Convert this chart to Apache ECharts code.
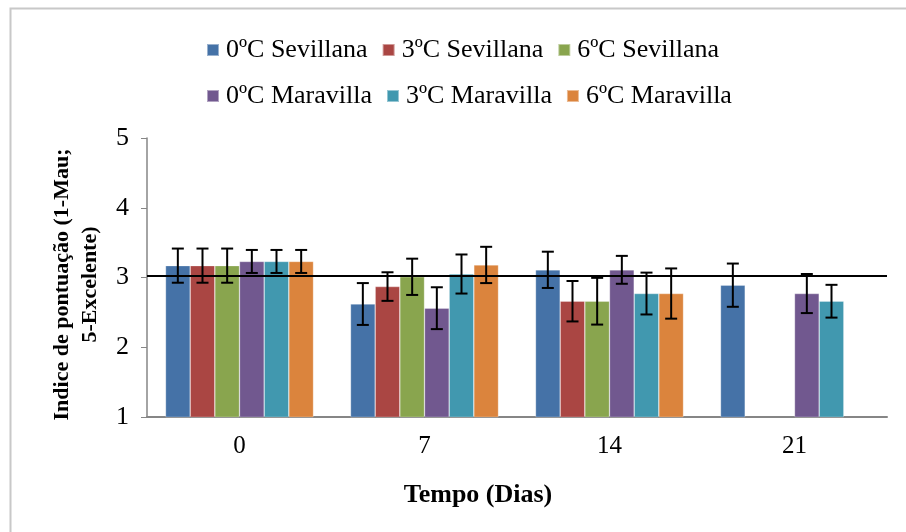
<!DOCTYPE html>
<html>
<head>
<meta charset="utf-8">
<script src="https://cdn.jsdelivr.net/npm/echarts@6/dist/echarts.min.js"></script>
<style>html,body{margin:0;padding:0;background:#fff;}#c{width:906px;height:532px;}</style>
</head>
<body>
<div id="c"></div>
<script>
const days = ['0', '7', '14', '21'];
const seriesNames = ['0ºC Sevillana', '3ºC Sevillana', '6ºC Sevillana', '0ºC Maravilla', '3ºC Maravilla', '6ºC Maravilla'];
const sev0 = [3.17, 2.62, 3.11, 2.89];
const sev3 = [3.17, 2.87, 2.66, null];
const sev6 = [3.17, 3.01, 2.66, null];
const mar0 = [3.23, 2.56, 3.11, 2.77];
const mar3 = [3.23, 3.05, 2.77, 2.66];
const mar6 = [3.23, 3.18, 2.77, null];
const sev0Err = [0.245, 0.30, 0.26, 0.31];
const sev3Err = [0.245, 0.205, 0.29, null];
const sev6Err = [0.245, 0.26, 0.335, null];
const mar0Err = [0.165, 0.30, 0.20, 0.28];
const mar3Err = [0.165, 0.28, 0.30, 0.235];
const mar6Err = [0.165, 0.26, 0.36, null];
const refLine = 3.02;
const yTicks = [1, 5, 1];

const values = [sev0, sev3, sev6, mar0, mar3, mar6];
const errs = [sev0Err, sev3Err, sev6Err, mar0Err, mar3Err, mar6Err];
const colors = ['#4572A7', '#AA4643', '#89A54E', '#71588F', '#4198AF', '#DB843D'];
const FONT = '"Liberation Serif", "Times New Roman", serif';
const CAT_GAP = 0.2;

const errData = [];
values.forEach((vals, s) => {
  vals.forEach((v, c) => {
    if (v != null && errs[s][c] != null) errData.push([c, v - errs[s][c], v + errs[s][c], s]);
  });
});

const series = values.map((vals, i) => ({
  name: seriesNames[i],
  type: 'bar',
  data: vals,
  barGap: '0%',
  barCategoryGap: '20%',
  itemStyle: { color: colors[i], borderColor: 'rgba(255,255,255,0.45)', borderWidth: 0.6 },
  emphasis: { disabled: true },
  markLine: i === 0 ? {
    silent: true, symbol: 'none', label: { show: false },
    lineStyle: { color: '#000', width: 2, type: 'solid' },
    data: [{ yAxis: refLine }]
  } : undefined
}));

series.push({
  type: 'custom',
  name: 'err',
  data: errData,
  z: 10,
  encode: { x: 0, y: [1, 2] },
  renderItem: function (params, api) {
    const c = api.value(0), lo = api.value(1), hi = api.value(2), s = api.value(3);
    const band = api.size([1, 0])[0];
    const bw = band * (1 - CAT_GAP) / 6;
    const center = api.coord([c, lo]);
    const x = center[0] + (s - 2.5) * bw;
    const yLo = api.coord([c, lo])[1];
    const yHi = api.coord([c, hi])[1];
    const cap = 6;
    const st = { stroke: '#000', lineWidth: 2 };
    return {
      type: 'group',
      children: [
        { type: 'line', shape: { x1: x, y1: yLo, x2: x, y2: yHi }, style: st },
        { type: 'line', shape: { x1: x - cap, y1: yHi, x2: x + cap, y2: yHi }, style: st },
        { type: 'line', shape: { x1: x - cap, y1: yLo, x2: x + cap, y2: yLo }, style: st }
      ]
    };
  }
});

const legendCommon = {
  icon: 'rect', itemWidth: 12, itemHeight: 12, itemGap: 14,
  textStyle: { fontFamily: FONT, fontSize: 26, color: '#000', padding: [0, 0, 0, 2] },
  selectedMode: false
};

const chart = echarts.init(document.getElementById('c'), null, { renderer: 'canvas' });
chart.setOption({
  animation: false,
  color: colors,
  graphic: [{
    type: 'rect', left: 8, top: 6, silent: true,
    shape: { width: 920, height: 560 },
    style: { fill: 'none', stroke: '#c8c8c8', lineWidth: 2 }
  }],
  title: {
    text: 'Tempo (Dias)', left: 473, top: 477, textAlign: 'center',
    textStyle: { fontFamily: FONT, fontSize: 26, fontWeight: 'bold', color: '#000' }
  },
  legend: [
    Object.assign({ left: 201, top: 32, data: seriesNames.slice(0, 3) }, legendCommon),
    Object.assign({ left: 201, top: 78, data: seriesNames.slice(3, 6) }, legendCommon)
  ],
  grid: { left: 147, right: 19, top: 138, bottom: 115 },
  xAxis: {
    type: 'category', data: days,
    axisLine: { lineStyle: { color: '#868686', width: 2 } },
    axisTick: { show: false },
    axisLabel: { fontFamily: FONT, fontSize: 25, color: '#000', margin: 17 }
  },
  yAxis: {
    type: 'value', min: yTicks[0], max: yTicks[1], interval: yTicks[2],
    name: 'Indice de pontuação (1-Mau;\n5-Excelente)',
    nameLocation: 'middle', nameGap: 43, nameRotate: 90,
    nameTextStyle: { fontFamily: FONT, fontSize: 22, fontWeight: 'bold', color: '#000', lineHeight: 28, padding: [0, 14, 0, 0] },
    axisLine: { show: true, lineStyle: { color: '#868686', width: 1.5 } },
    axisTick: { show: true, inside: false, length: 6, lineStyle: { color: '#868686' } },
    splitLine: { show: false },
    axisLabel: { fontFamily: FONT, fontSize: 26, color: '#000', margin: 18 }
  },
  series: series
});
</script>
</body>
</html>
